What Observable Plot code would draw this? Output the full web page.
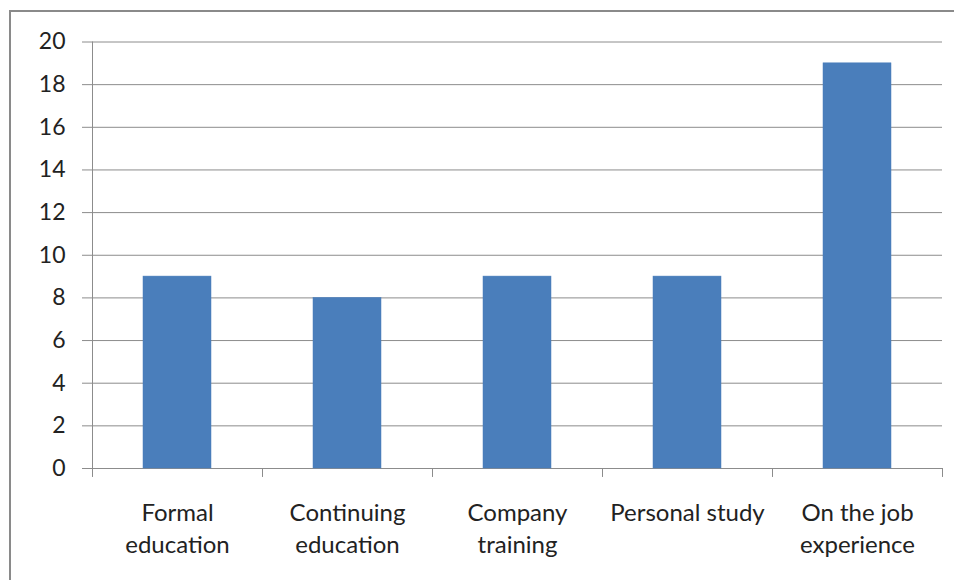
<!DOCTYPE html>
<html>
<head>
<meta charset="utf-8">
<script src="https://cdn.jsdelivr.net/npm/d3@7"></script>
<script src="https://cdn.jsdelivr.net/npm/@observablehq/plot@0.6"></script>
<style>
  html, body { margin: 0; padding: 0; background: #fff; overflow: hidden; }
  #wrap { position: relative; width: 954px; height: 580px; }
  #border { position: absolute; left: 9px; top: 10px; width: 3000px; height: 3000px;
            border: 2px solid #8a8a8a; box-sizing: border-box; pointer-events: none; }
</style>
</head>
<body>
<div id="wrap"><div id="border"></div></div>
<script>
const categories = ["Formal education", "Continuing education", "Company training", "Personal study", "On the job experience"];
const values = [9, 8, 9, 9, 19];
const tickLabels = ["Formal\neducation", "Continuing\neducation", "Company\ntraining", "Personal study", "On the job\nexperience"];
const yTicks = [0, 2, 4, 6, 8, 10, 12, 14, 16, 18, 20];

const data = categories.map((c, i) => ({category: c, value: values[i]}));

const W = 954, H = 580, mL = 92, mR = 12, mT = 41.5, mB = 112;
const step = (W - mL - mR) / categories.length;
const grey = "#8c8c8c";

const chart = Plot.plot({
  width: W, height: H,
  marginLeft: mL, marginRight: mR, marginTop: mT, marginBottom: mB,
  style: {fontFamily: "Lato", fontSize: "23px", color: "#222", background: "transparent"},
  x: {domain: categories, paddingInner: 0.6, paddingOuter: 0.3},
  y: {domain: [0, 20], ticks: yTicks},
  marks: [
    Plot.ruleY(yTicks, {stroke: grey, strokeOpacity: 1}),
    Plot.barY(data, {x: "category", y: "value", fill: "#4a7ebb", stroke: "#4a7ebb", strokeWidth: 0.5}),
    Plot.ruleX([categories[0]], {x: d => d, y1: 0, y2: 20, dx: -step / 2, stroke: grey}),
    Plot.ruleX(categories, {x: d => d, y1: -0.42, y2: 0, dx: -step / 2, stroke: grey}),
    Plot.ruleX([categories[categories.length - 1]], {x: d => d, y1: -0.42, y2: 0, dx: step / 2, stroke: grey}),
    Plot.axisY({ticks: yTicks, tickSize: 10, tickPadding: 17, stroke: grey, label: null}),
    Plot.axisX({tickSize: 0, tickPadding: 29, lineHeight: 1.36, fontSize: 24, label: null,
                tickFormat: d => tickLabels[categories.indexOf(d)]})
  ]
});
chart.style.position = "absolute";
chart.style.left = "0px";
chart.style.top = "0px";
document.getElementById("wrap").appendChild(chart);
</script>
</body>
</html>
